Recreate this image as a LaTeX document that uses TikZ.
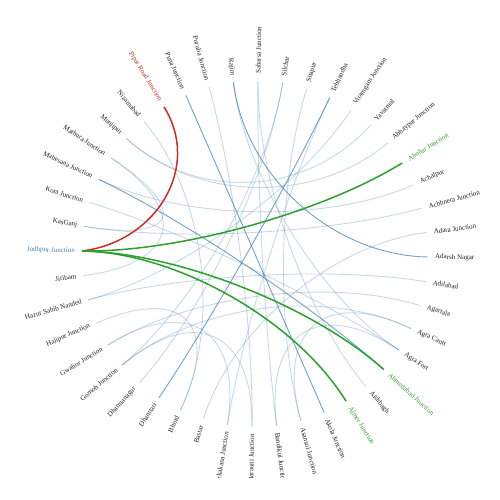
\documentclass[tikz,border=0pt]{standalone}
\usepackage{fontspec}
\setmainfont{Liberation Serif}
\usetikzlibrary{calc}
\definecolor{steel}{RGB}{70,130,180}
\definecolor{hired}{RGB}{205,45,40}
\definecolor{higreen}{RGB}{44,160,44}
\definecolor{labelgray}{RGB}{30,30,30}
\tikzset{
  lnk/.style={draw=steel, draw opacity=0.3, line width=0.9pt},
  lnkmid/.style={draw=steel, draw opacity=0.75, line width=0.9pt},
  lnkout/.style={draw=hired, line width=1.5pt},
  lnkin/.style={draw=higreen, line width=1.5pt},
  lbl/.style={font=\fontsize{7}{8}\selectfont, inner sep=0pt},
}
\newcommand\edgeLink[3][lnk]{\draw[#1] (p#2) .. controls ($(c)!0.45!(p#2)$) and ($(c)!0.45!(p#3)$) .. (p#3);}
\begin{document}
\begin{tikzpicture}[x=1pt,y=1pt]
\useasboundingbox (0,0) rectangle (500,500);
\coordinate (c) at (255,246);
\begin{scope}
\clip (0,22) rectangle (500,500);
\foreach \n/\col [count=\i] in {Jodhpur Junction/steel, KasGanj/labelgray, Kota Junction/labelgray, Mahesana Junction/labelgray, Mathura Junction/labelgray, Munjipur/labelgray, Nizamabad/labelgray, Pipar Road Junction/hired, Puna Junction/labelgray, Purulia Junction/labelgray, Rajim/labelgray, Saharsa Junction/labelgray, Silchar/labelgray, Sitapur/labelgray, Tebhandha/labelgray, Viramgam Junction/labelgray, Yavatmal/labelgray, Abhaypur Junction/labelgray, Abohar Junction/higreen, Achalpur/labelgray, Achhnera Junction/labelgray, Adara Junction/labelgray, Adarsh Nagar/labelgray, Adilabad/labelgray, Agartala/labelgray, Agra Cantt/labelgray, Agra Fort/labelgray, Ahmedabad Junction/higreen, Aishbagh/labelgray, Ajmer Junction/higreen, Akola Junction/labelgray, Asansol Junction/labelgray, Bandikui Junction/labelgray, Barauni Junction/labelgray, Barkakana Junction/labelgray, Bastar/labelgray, Bhind/labelgray, Dhamtari/labelgray, Dharmanagar/labelgray, Gomoh Junction/labelgray, Gwalior Junction/labelgray, Hajipur Junction/labelgray, Hazur Sahib Nanded/labelgray, Jiribam/labelgray}{
  \pgfmathsetmacro\ang{179-(\i-1)*360/44}
  \pgfmathsetmacro\rt{cos(\ang)>=0 ? \ang : \ang+180}
  \pgfmathsetmacro\side{cos(\ang)>=0 ? 1 : 0}
  \coordinate (p\i) at ($(c)+(\ang:173)$);
  \ifdim\side pt>0.5pt
    \node[lbl,text=\col,anchor=west,rotate=\rt] (l\i) at ($(c)+(\ang:180)$) {\n};
  \else
    \node[lbl,text=\col,anchor=east,rotate=\rt] (l\i) at ($(c)+(\ang:180)$) {\n};
  \fi
}
\end{scope}
% ordinary links
\edgeLink{11}{27}
\edgeLink{14}{32}
\edgeLink{10}{34}
\edgeLink{12}{33}
\edgeLink{12}{29}
\edgeLink{13}{39}
\edgeLink{13}{40}
\edgeLink{15}{35}
\edgeLink{16}{43}
\edgeLink{6}{17}
\edgeLink{6}{18}
\edgeLink{4}{20}
\edgeLink{2}{21}
\edgeLink{5}{2}
\edgeLink{5}{44}
\edgeLink{7}{37}
\edgeLink{22}{36}
\edgeLink{24}{43}
\edgeLink{25}{41}
\edgeLink{26}{40}
\edgeLink{27}{3}
\edgeLink{27}{33}
\edgeLink{26}{32}
\edgeLink{41}{35}
\edgeLink{42}{37}
\edgeLink{40}{34}
% darker links
\edgeLink[lnkmid]{4}{28}
\edgeLink[lnkmid]{9}{31}
\edgeLink[lnkmid]{15}{38}
\edgeLink[lnkmid]{11}{23}
% highlighted links
\draw[lnkout] (p1) .. controls ($(c)!0.58!(p1)+(0,10)$) and ($(c)!0.58!(p8)$) .. (p8);
\edgeLink[lnkin]{1}{19}
\edgeLink[lnkin]{1}{28}
\edgeLink[lnkin]{1}{30}
\end{tikzpicture}
\end{document}
